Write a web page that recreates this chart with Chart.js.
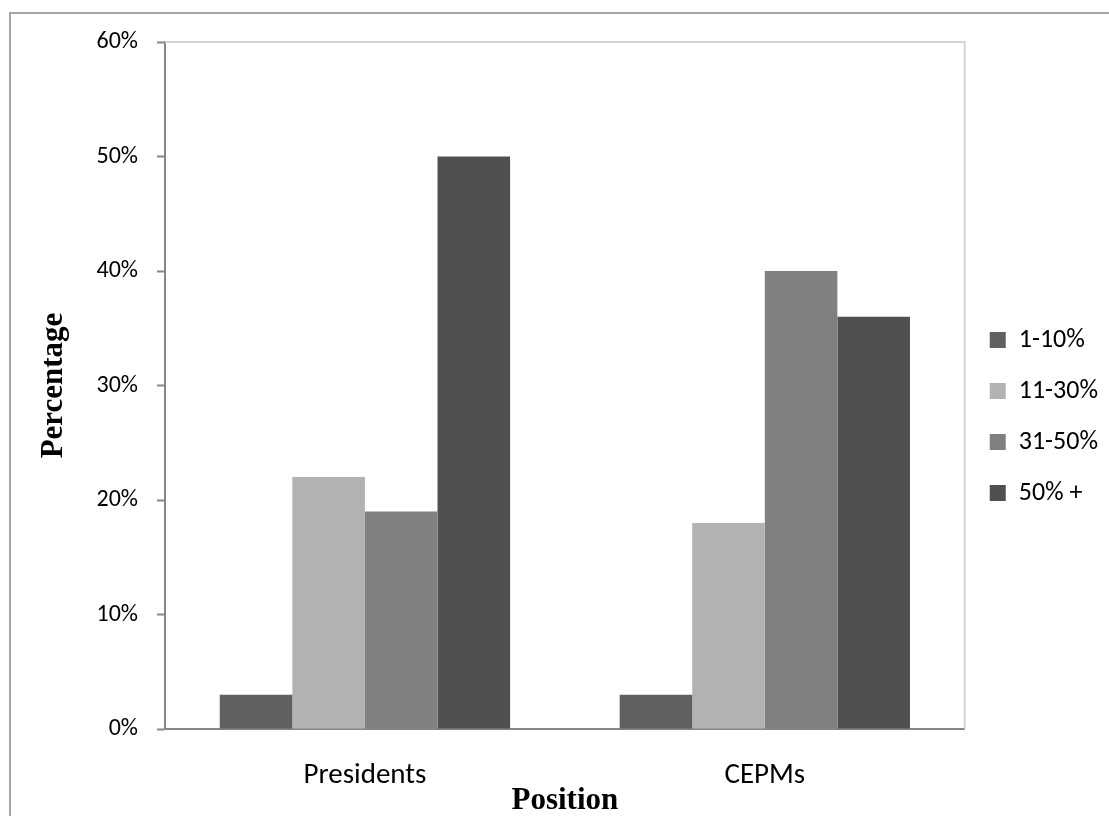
<!DOCTYPE html>
<html>
<head>
<meta charset="utf-8">
<script src="https://cdn.jsdelivr.net/npm/chart.js@4.4.1/dist/chart.umd.min.js"></script>
<style>
  html, body { margin: 0; padding: 0; background: #ffffff; }
  #wrap { position: relative; width: 1109px; height: 816px; overflow: hidden; }
  #frame {
    position: absolute; left: 9px; top: 12px; width: 1200px; height: 900px;
    border-left: 2px solid #a6a6a6; border-top: 2px solid #a6a6a6;
    box-sizing: border-box;
  }
  canvas { position: absolute; left: 0; top: 0; }
</style>
</head>
<body>
<div id="wrap">
  <div id="frame"></div>
  <canvas id="chart" width="1109" height="816"></canvas>
</div>
<script>
// Share of respondents (%) by proportion band, per position
const positions = ['Presidents', 'CEPMs'];
const bandLabels = ['1-10%', '11-30%', '31-50%', '50% +'];
const band1to10 = [3, 3];
const band11to30 = [22, 18];
const band31to50 = [19, 40];
const band50plus = [50, 36];
const yTicks = [0, 10, 20, 30, 40, 50, 60];

const bandColors = ['#606060', '#b2b2b2', '#808080', '#505050'];
const bandValues = [band1to10, band11to30, band31to50, band50plus];

const sansFont = "Carlito, Lato, 'Open Sans', sans-serif";
const serifFont = "'Liberation Serif', 'DejaVu Serif', serif";

// Light frame on the top and right edges of the plot area
const plotFrame = {
  id: 'plotFrame',
  beforeDatasetsDraw(chart) {
    const { ctx, chartArea: a } = chart;
    ctx.save();
    ctx.strokeStyle = '#d4d4d4';
    ctx.lineWidth = 2;
    ctx.beginPath();
    ctx.moveTo(a.left, a.top);
    ctx.lineTo(a.right, a.top);
    ctx.lineTo(a.right, a.bottom);
    ctx.stroke();
    ctx.restore();
  }
};

new Chart(document.getElementById('chart'), {
  type: 'bar',
  data: {
    labels: positions,
    datasets: bandLabels.map((label, i) => ({
      label,
      data: bandValues[i],
      backgroundColor: bandColors[i],
      borderWidth: 0,
      barPercentage: 1.0,
      categoryPercentage: 0.726
    }))
  },
  options: {
    responsive: false,
    animation: false,
    devicePixelRatio: 1,
    layout: { padding: { top: 42, right: 1, bottom: 0, left: 0 } },
    plugins: {
      tooltip: { enabled: false },
      legend: {
        position: 'right',
        align: 'start',
        title: {
          display: true,
          text: '',
          font: { size: 10, lineHeight: 1 },
          padding: { top: 250, bottom: 0 }
        },
        labels: {
          boxWidth: 16,
          boxHeight: 16,
          padding: 25,
          color: '#000000',
          font: { family: sansFont, size: 26 }
        }
      }
    },
    scales: {
      x: {
        grid: { display: false, drawTicks: false },
        border: { display: true, color: '#868686', width: 2 },
        ticks: {
          color: '#000000',
          padding: 29,
          font: { family: sansFont, size: 29 }
        },
        title: {
          display: true,
          text: 'Position',
          color: '#000000',
          font: { family: serifFont, size: 31, weight: 'bold', lineHeight: 1 },
          padding: { top: 0, bottom: 0 }
        },
        afterFit(scale) { scale.height = 87; }
      },
      y: {
        min: 0,
        max: 60,
        afterBuildTicks(scale) { scale.ticks = yTicks.map(v => ({ value: v })); },
        grid: {
          drawOnChartArea: false,
          drawTicks: true,
          tickLength: 8,
          tickWidth: 2,
          tickColor: '#868686'
        },
        border: { display: true, color: '#868686', width: 2 },
        ticks: {
          color: '#000000',
          padding: 19,
          font: { family: sansFont, size: 24 },
          callback: v => v + '%'
        },
        title: {
          display: true,
          text: 'Percentage',
          color: '#000000',
          font: { family: serifFont, size: 31, weight: 'bold' },
          padding: { top: 35, bottom: 0 }
        },
        afterFit(scale) { scale.width = 165; }
      }
    }
  },
  plugins: [plotFrame]
});
</script>
</body>
</html>
